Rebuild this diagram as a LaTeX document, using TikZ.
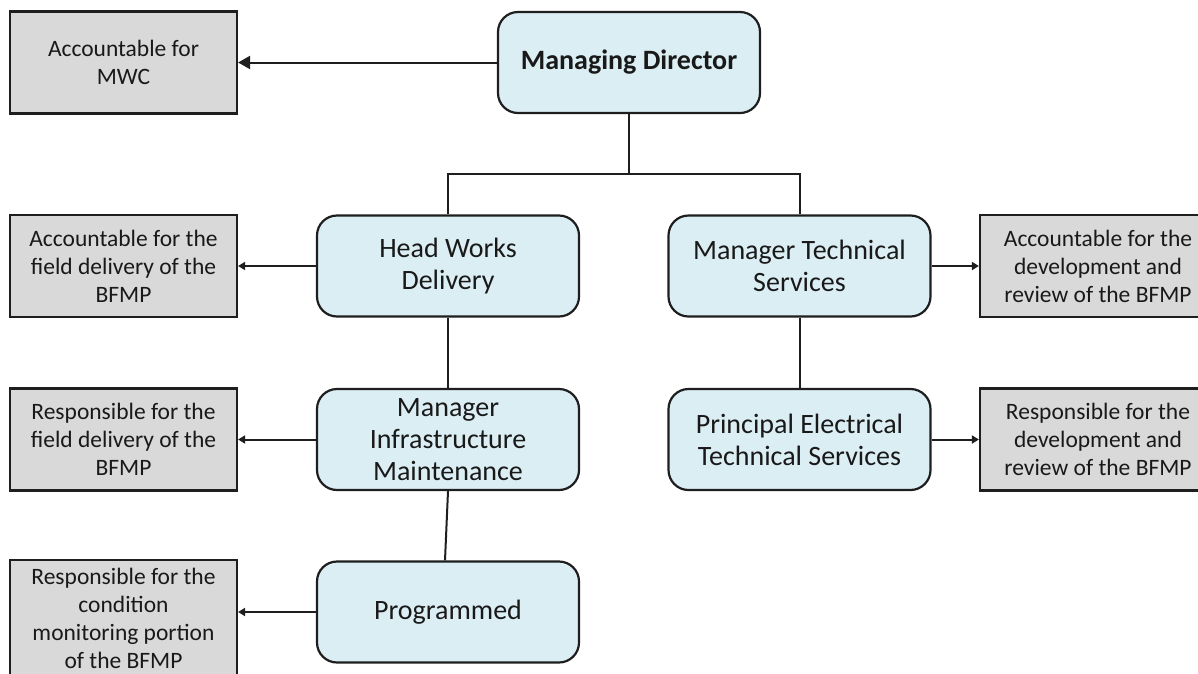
\documentclass[tikz,border=0pt]{standalone}
\usepackage{fontspec}
\setmainfont{Carlito}
\usepackage{xcolor}
\usepackage{tikz}
\usetikzlibrary{arrows.meta, positioning, calc}
\definecolor{rolecolor}{RGB}{219,238,244}
\definecolor{dutycolor}{RGB}{217,217,217}
\definecolor{linecolor}{RGB}{30,30,30}

\begin{document}
\begin{tikzpicture}[
    x=1pt, y=-1pt,
    role/.style={draw=linecolor, line width=2.2pt, fill=rolecolor, minimum width=262pt, minimum height=101pt, rounded corners=20pt, align=center, inner sep=0pt, font=\fontsize{28}{32}\selectfont, text=black!90},
    duty/.style={draw=linecolor, line width=2.2pt, fill=dutycolor, minimum width=227pt, minimum height=102pt, align=center, inner sep=0pt, font=\fontsize{23.5}{28}\selectfont, text=black!90},
    link/.style={-{Triangle[length=7pt, width=8pt]}, line width=2pt, linecolor},
    tree/.style={line width=2pt, linecolor}
]
    \useasboundingbox (0,0) rectangle (1198,673);
    \node[role, font=\fontsize{28}{32}\selectfont\bfseries] (md) at (629,62.5) {Managing Director};
    \node[duty] (mwc) at (123.5,62.5) {Accountable for\\MWC};
    \node[role] (hwd) at (448,266) {Head Works\\Delivery};
    \node[duty] (hwdnote) at (123.5,266) {Accountable for the\\field delivery of the\\BFMP};
    \node[role] (mts) at (799.5,266) {Manager Technical\\Services};
    \node[duty, minimum width=236pt] (mtsnote) at (1098,266) {Accountable for the\\development and\\review of the BFMP};
    \node[role] (mim) at (448,439.5) {Manager\\Infrastructure\\Maintenance};
    \node[duty] (mimnote) at (123.5,439.5) {Responsible for the\\field delivery of the\\BFMP};
    \node[role] (pets) at (799.5,439.5) {Principal Electrical\\Technical Services};
    \node[duty, minimum width=236pt] (petsnote) at (1098,439.5) {Responsible for the\\development and\\review of the BFMP};
    \node[role] (prog) at (448,612) {Programmed};
    \node[duty, minimum height=116pt] (prognote) at (123.5,618) {Responsible for the\\condition\\monitoring portion\\of the BFMP};

    % reporting lines
    \coordinate (tee) at ($(md.south)+(0,60)$);
    \draw[tree] (md.south) -- (tee);
    \draw[tree] (hwd.north) |- (tee) -| (mts.north);
    \draw[tree] (hwd) -- (mim);
    \draw[tree] (mim.south) -- ([xshift=-3pt]prog.north);
    \draw[tree] (mts) -- (pets);

    % duties
    \draw[-{Triangle[length=12pt, width=13pt]}, line width=2pt, linecolor] (md) -- (mwc);
    \draw[link] (hwd) -- (hwdnote);
    \draw[link] (mim) -- (mimnote);
    \draw[link] (prog.west) -- (prog.west -| prognote.east);
    \draw[link] (mts) -- (mtsnote);
    \draw[link] (pets) -- (petsnote);
\end{tikzpicture}
\end{document}
